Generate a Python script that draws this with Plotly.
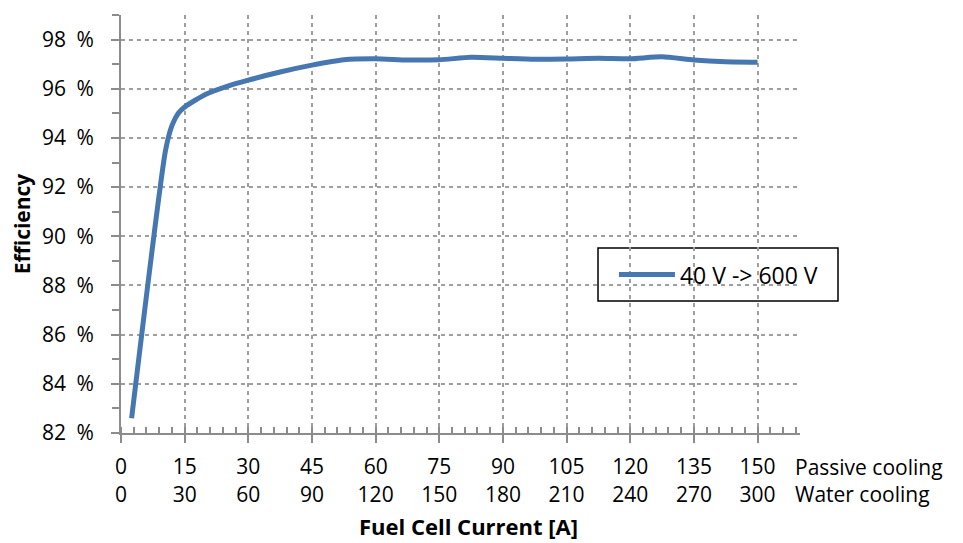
import plotly.graph_objects as go

# Data (x in "Passive cooling" current scale, efficiency in %)
current = [2.5, 10.5, 12, 13.5, 15, 20, 25, 30, 37.5, 45, 52.5, 60, 67.5, 75, 82.5,
           90, 97.5, 105, 112.5, 120, 127.5, 135, 142.5, 150]
efficiency = [82.6, 93.5, 94.5, 95.0, 95.26, 95.78, 96.1, 96.35, 96.68, 96.96, 97.18,
              97.22, 97.17, 97.18, 97.28, 97.24, 97.2, 97.21, 97.24, 97.22,
              97.3, 97.17, 97.1, 97.08]
series_name = "40 V -> 600 V"

passive_ticks = [0, 15, 30, 45, 60, 75, 90, 105, 120, 135, 150]
water_ticks = [0, 30, 60, 90, 120, 150, 180, 210, 240, 270, 300]
tick_text = [f"{p}<br>{w}" for p, w in zip(passive_ticks, water_ticks)]

y_ticks = [82, 84, 86, 88, 90, 92, 94, 96, 98]
y_text = [f"{v}\u2002%" for v in y_ticks]

FONT = "Open Sans"
GRID = "#9E9E9E"
AXIS = "#8C8C8C"

# plot area in page pixels (page has an ~8px body offset)
L, R, T, B = 113, 171, 7, 118
PH = 543 - T - B

fig = go.Figure()
fig.add_trace(go.Scatter(
    x=current, y=efficiency, mode="lines", name=series_name,
    line=dict(color="#4677B0", width=5, shape="spline", smoothing=0.6),
))

fig.update_layout(
    width=963, height=543,
    margin=dict(l=L, r=R, t=T, b=B),
    paper_bgcolor="white", plot_bgcolor="white",
    font=dict(family=FONT, size=21, color="black"),
    showlegend=True,
    legend=dict(
        x=0.726, y=0.379, xanchor="left", yanchor="middle",
        borderwidth=0, bgcolor="rgba(0,0,0,0)",
        font=dict(family=FONT, size=23, color="black"),
        itemwidth=56, tracegroupgap=0,
    ),
    xaxis=dict(
        range=[0, 160], tickmode="array", tickvals=passive_ticks, ticktext=tick_text,
        automargin=False,
        showline=True, linecolor=AXIS, linewidth=2,
        ticks="outside", ticklen=8, tickwidth=2, tickcolor=AXIS,
        showgrid=True, gridcolor=GRID, griddash="4px,4px", gridwidth=1.5,
        zeroline=False,
        minor=dict(ticks="inside", ticklen=6, tickwidth=1.5, tickcolor=AXIS,
                   dtick=3, tick0=0, showgrid=False),
        tickfont=dict(family=FONT, size=21, color="black"),
        ticklabelstandoff=6,
    ),
    yaxis=dict(
        range=[82, 99], tickmode="array", tickvals=y_ticks, ticktext=y_text,
        automargin=False,
        showline=True, linecolor=AXIS, linewidth=2,
        ticks="outside", ticklen=8, tickwidth=2, tickcolor=AXIS,
        showgrid=True, gridcolor=GRID, griddash="4px,4px", gridwidth=1.5,
        zeroline=False,
        minor=dict(ticks="outside", ticklen=7, tickwidth=1.5, tickcolor=AXIS,
                   dtick=1, tick0=82, showgrid=False),
        tickfont=dict(family=FONT, size=21, color="black"),
        ticklabelstandoff=13,
        title=dict(text="<b>Efficiency</b>",
                   font=dict(family=FONT, size=21, color="black"), standoff=12),
    ),
    shapes=[dict(
        type="rect", xref="paper", yref="paper",
        x0=(598 - 121) / 679, x1=(838 - 121) / 679,
        y0=(433 - 301) / 418, y1=(433 - 248) / 418,
        line=dict(color="black", width=1.5), fillcolor="white", layer="below",
    )],
)

fig.add_annotation(
    text="Passive cooling<br>Water cooling", xref="paper", yref="paper",
    x=0.989, y=-0.1136, xanchor="left", yanchor="middle", align="left",
    showarrow=False, font=dict(family=FONT, size=21, color="black"),
)
fig.add_annotation(
    text="<b>Fuel Cell Current [A]</b>", xref="paper", yref="paper",
    x=(468 - 121) / 679, y=(433 - 526) / PH, xanchor="center", yanchor="middle",
    showarrow=False, font=dict(family=FONT, size=22, color="black"),
)

fig.write_html("out.html")
